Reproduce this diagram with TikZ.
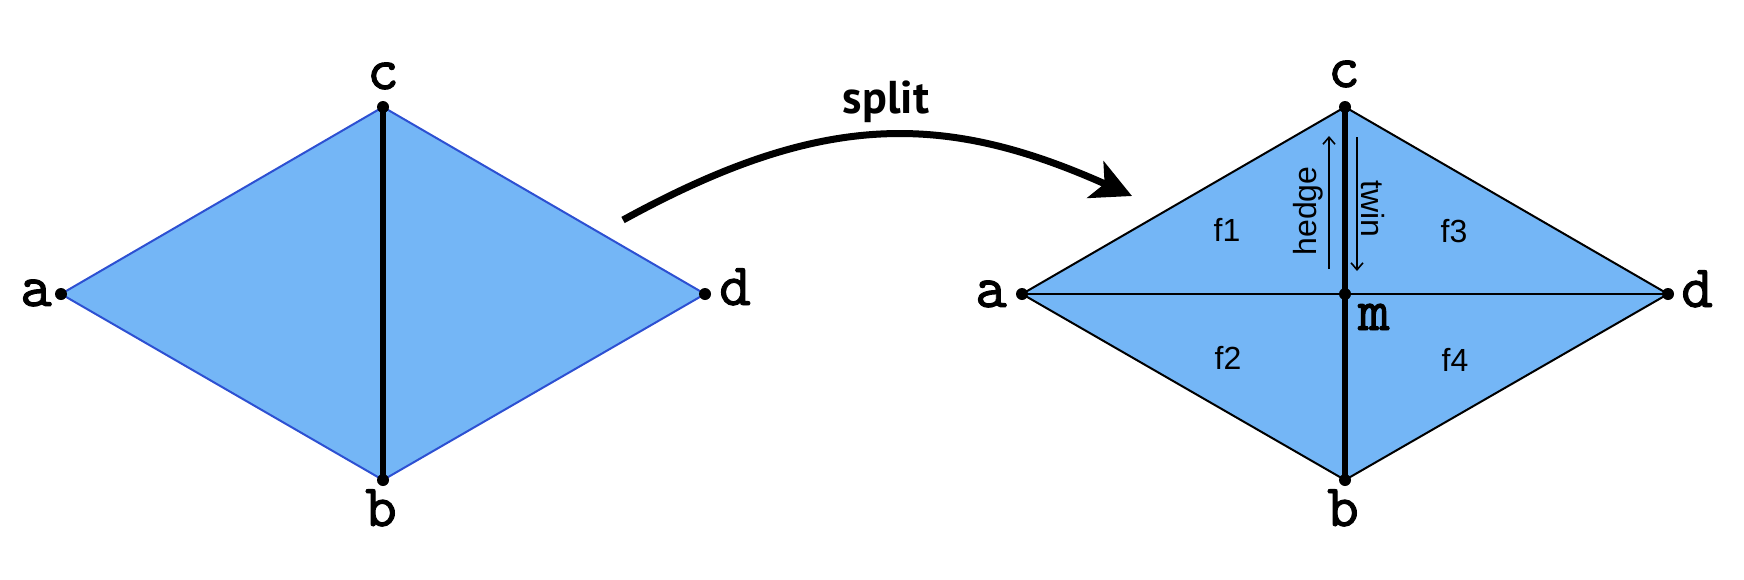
\documentclass[tikz,border=0pt]{standalone}
\usepackage{fontspec}
\usetikzlibrary{arrows.meta}
\newfontfamily\monof{lmmono10-regular.otf}[FakeBold=1.6]
\newfontfamily\sansf{Liberation Sans}
\newfontfamily\splitf{PT Sans}
\definecolor{facefill}{RGB}{116,182,246}
\definecolor{edgeblue}{RGB}{45,80,210}
\begin{document}
\begin{tikzpicture}[x=1pt,y=-1pt,
  vlabel/.style={font=\fontsize{60}{60}\selectfont\monof, inner sep=0pt, anchor=base},
  flabel/.style={font=\fontsize{32}{32}\selectfont\sansf, inner sep=0pt},
  vdot/.style={circle, fill=black, inner sep=0pt, minimum size=12pt},
  thickedge/.style={line width=6pt, black},
  halfedge/.style={line width=1.6pt, -{Straight Barb[length=7pt,width=12pt]}},
  splitarrow/.style={line width=7pt, -{Stealth[length=40pt,width=40pt,inset=10pt]}}]
\useasboundingbox (0,0) rectangle (1744,579);
% left diamond
\coordinate (La) at (61,294);
\coordinate (Lc) at (383,107);
\coordinate (Ld) at (705,294);
\coordinate (Lb) at (383,480);
\fill[facefill] (La) -- (Lc) -- (Ld) -- (Lb) -- cycle;
\draw[edgeblue, line width=2pt, line join=round] (La) -- (Lc) -- (Ld) -- (Lb) -- cycle;
\draw[thickedge] (Lc) -- (Lb);
\foreach \v in {La,Lb,Lc,Ld} \node[vdot] at (\v) {};
\node[vlabel] (lLa) at (36,306) {a};
\node[vlabel] (lLc) at (383,89) {c};
\node[vlabel] (lLd) at (735,305) {d};
\node[vlabel] (lLb) at (381,526) {b};
% right diamond
\coordinate (Ra) at (1022,294);
\coordinate (Rc) at (1345,107);
\coordinate (Rd) at (1668,294);
\coordinate (Rb) at (1345,480);
\coordinate (Rm) at (1345,294);
\fill[facefill] (Ra) -- (Rc) -- (Rd) -- (Rb) -- cycle;
\draw[black, line width=2pt, line join=round] (Ra) -- (Rc) -- (Rd) -- (Rb) -- cycle;
\draw[black, line width=2.4pt] (Ra) -- (Rd);
\draw[thickedge] (Rc) -- (Rb);
\foreach \v in {Ra,Rb,Rc,Rd,Rm} \node[vdot] at (\v) {};
\node[vlabel] (lRa) at (991,307) {a};
\node[vlabel] (lRc) at (1344,87) {c};
\node[vlabel] (lRd) at (1697,307) {d};
\node[vlabel] (lRb) at (1343,526) {b};
\node[vlabel] (lRm) at (1374,330) {m};
% faces
\node[flabel] (f1) at (1227,230) {f1};
\node[flabel] (f2) at (1228,358) {f2};
\node[flabel] (f3) at (1454,231) {f3};
\node[flabel] (f4) at (1455,360) {f4};
% half-edges
\coordinate (hS) at (1329,269);
\coordinate (hT) at (1329,136);
\coordinate (tS) at (1357,137);
\coordinate (tT) at (1357,271);
\draw[halfedge] (hS) -- (hT);
\draw[halfedge] (tS) -- (tT);
\node[flabel, rotate=90] (hedge) at (1308,211) {hedge};
\node[flabel, rotate=-90] (twin) at (1373,209) {twin};
% split arrow
\coordinate (sS) at (623,220);
\coordinate (sT) at (1132,196);
\draw[splitarrow] (sS) .. controls (820,112) and (942,111) .. (sT);
\node[font=\fontsize{46}{46}\selectfont\splitf\bfseries, inner sep=0pt, anchor=base] (split) at (886,113) {split};
\end{tikzpicture}
\end{document}
